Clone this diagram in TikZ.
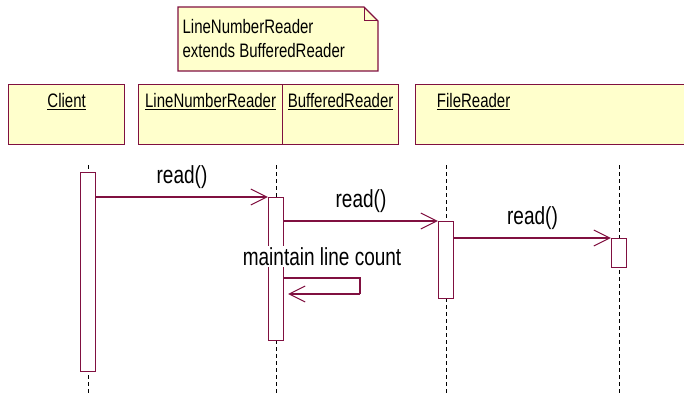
\documentclass[tikz,border=0pt]{standalone}
\usepackage{graphicx}
\usepackage{fontspec}
\setmainfont{Liberation Sans}
\usetikzlibrary{arrows.meta,calc}
\definecolor{umlline}{RGB}{128,16,64}
\definecolor{umlfill}{RGB}{255,255,204}
\newcommand{\tall}[1]{\scalebox{1}[1.3]{#1}}
\begin{document}
\begin{tikzpicture}[x=1pt,y=-1pt,line width=1.2pt,
  obj/.style={draw=umlline,fill=umlfill,minimum height=60pt,inner sep=0pt,anchor=north west},
  objname/.style={anchor=north,yshift=-5pt,font=\fontsize{15}{18}\selectfont},
  act/.style={draw=umlline,fill=white,minimum width=15pt,inner sep=0pt,anchor=north},
  life/.style={black,line width=1pt,dash pattern=on 4pt off 3pt},
  msg/.style={draw=umlline,-{Straight Barb[length=16pt,width=16pt,line width=1pt]}},
  msgtext/.style={black,font=\fontsize{19}{22}\selectfont,inner sep=2pt,text depth=0pt}]
  \useasboundingbox (0,0) rectangle (684,393);
  \clip (0,0) rectangle (684,393);
  % note
  \coordinate (n1) at (178,7);
  \coordinate (n2) at (364,7);
  \coordinate (n3) at (378,21);
  \coordinate (n4) at (378,71);
  \coordinate (n5) at (178,71);
  \coordinate (n6) at (364,21);
  \draw[umlline,fill=umlfill] (n1) -- (n2) -- (n3) -- (n4) -- (n5) -- cycle;
  \draw[umlline,line width=1pt] (n2) -- (n6) -- (n3);
  \node[anchor=north west,align=left,inner sep=4pt,yshift=-8pt,font=\fontsize{15}{24}\selectfont] (note) at (n1)
    {\tall{LineNumberReader}\\\tall{extends BufferedReader}};
  % objects
  \node[obj,minimum width=116pt,label={[objname]north:\tall{\underline{Client}}}] (client) at (8,84) {};
  \node[obj,minimum width=144pt,label={[objname]north:\tall{\underline{LineNumberReader}}}] (lnr) at (138,84) {};
  \node[obj,minimum width=116pt,label={[objname]north:\tall{\underline{BufferedReader}}}] (br) at (282,84) {};
  \node[obj,minimum width=300pt,label={[objname,anchor=north west,xshift=18pt]north west:\tall{\underline{FileReader}}}] (fr) at (415,84) {};
  % lifelines
  \foreach \nm/\x in {client/88,lnr/276,br/446,fr/619} {
    \coordinate (\nm-top) at (\x,165);
    \coordinate (\nm-bot) at (\x,393);
    \draw[life] (\nm-top) -- (\nm-bot);
  }
  % activations
  \node[act,minimum height=199pt] (aclient) at (88,172) {};
  \node[act,minimum height=143pt] (alnr) at (276,197) {};
  \node[act,minimum height=77pt] (abr) at (446,221) {};
  \node[act,minimum height=29pt] (afr) at (619,238) {};
  % messages
  \draw[msg] (aclient.east |- alnr.north) -- (alnr.north west) node[msgtext,midway,above=11pt] {\tall{read()}};
  \draw[msg] (alnr.east |- abr.north) -- (abr.north west) node[msgtext,midway,above=11pt] {\tall{read()}};
  \draw[msg] (abr.east |- afr.north) -- (afr.north west) node[msgtext,midway,above=11pt] {\tall{read()}};
  \coordinate (selfa) at (360,278);
  \coordinate (selfb) at (360,294);
  \draw[umlline] (alnr.east |- selfa) -- (selfa) -- (selfb);
  \draw[msg,shorten >=4pt] (selfb) -- (alnr.east |- selfb);
  \node[msgtext,fill=white,above=10pt] (selftext) at ($(alnr.east |- selfa)!.5!(selfa)$) {\tall{maintain line count}};
\end{tikzpicture}
\end{document}
